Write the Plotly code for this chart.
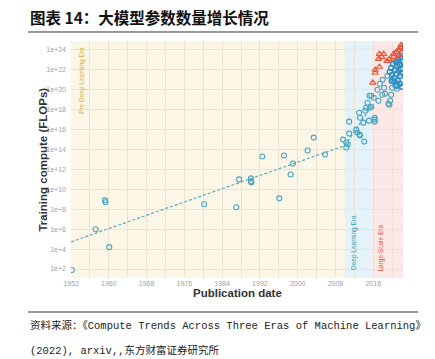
import plotly.graph_objects as go

# ---------------- data (log10 of training compute in FLOPs) ----------------
pre_years = [1952.2, 1957.2, 1959.2, 1959.3, 1960.1, 1980.2, 1987.0, 1987.6, 1990.1, 1990.1,
             1990.2, 1992.5, 1996.1, 1997.1, 1998.5, 1999.0, 2002.1, 2003.4, 2005.8, 2009.6]
pre_logs = [1.9, 6.0, 8.9, 8.7, 4.2, 8.5, 8.2, 11.0, 11.1, 10.8,
            10.7, 13.3, 9.1, 13.4, 11.5, 12.6, 13.9, 15.2, 13.5, 15.0]

dl_years = [2010.3, 2010.3, 2010.6, 2010.9, 2010.9, 2012.4, 2012.6, 2013.1, 2013.2, 2014.1,
            2013.0, 2013.2, 2013.9, 2014.3, 2015.1, 2014.5, 2014.8, 2015.2, 2015.3, 2015.6, 2015.6]
dl_logs = [14.7, 14.2, 14.5, 15.6, 16.8, 16.0, 15.7, 15.5, 15.4, 14.8,
           17.7, 17.2, 16.7, 17.9, 16.9, 18.2, 18.7, 19.4, 18.2, 18.3, 19.4]

ls_years = [2016.3, 2016.3, 2016.3, 2016.1, 2016.9, 2017.1, 2017.4, 2017.9, 2018.3, 2018.5,
            2019.0, 2019.4, 2019.6, 2019.8, 2020.0, 2020.2, 2020.7, 2021.0, 2018.0, 2019.2]
ls_logs = [17.2, 17.0, 16.8, 19.2, 20.0, 18.9, 20.6, 19.5, 20.2, 19.6,
           21.4, 18.5, 18.9, 19.5, 20.2, 20.9, 20.4, 20.1, 21.0, 18.6]

big_years = [2019.5, 2019.8, 2020.0, 2020.2, 2020.4, 2020.6, 2020.8, 2020.9, 2021.1, 2021.2,
             2021.3, 2021.4, 2021.5, 2021.6, 2021.7, 2021.8, 2021.9, 2022.0, 2022.1, 2022.1,
             2021.0, 2020.5, 2019.9, 2021.7, 2022.0]
big_logs = [21.8, 22.2, 21.5, 22.6, 21.2, 22.0, 22.8, 21.6, 22.4, 20.9,
            23.0, 21.9, 22.6, 20.6, 21.4, 23.2, 22.1, 21.7, 22.9, 20.3,
            20.4, 20.8, 20.9, 22.5, 23.4]

tri_years = [2015.9, 2016.4, 2016.4, 2017.1, 2017.3, 2017.3, 2017.8, 2018.2, 2018.9, 2019.4,
             2020.3, 2020.3, 2020.9, 2021.3, 2021.5, 2021.8, 2022.0, 2021.9, 2022.1]
tri_logs = [20.7, 22.0, 21.7, 23.1, 22.3, 23.6, 23.3, 23.6, 22.9, 23.1,
            23.3, 23.6, 23.8, 24.0, 23.5, 24.2, 23.8, 24.5, 24.3]

trend_pre_years = [1952.0, 2010.0]
trend_pre_logs = [4.73, 14.4]
trend_dl_years = [2010.0, 2016.0]
trend_dl_logs = [14.4, 18.6]

x_tick_years = [1952, 1960, 1968, 1976, 1984, 1992, 2000, 2008, 2016]
y_tick_exps = [2, 4, 6, 8, 10, 12, 14, 16, 18, 20, 22, 24]

eras = [("Pre Deep Learning Era", 1952.0, 2010.0, "#fcf6e7", "#d9b545"),
        ("Deep Learning Era", 2010.0, 2015.8, "#e4f3f9", "#3aa9c3"),
        ("Large Scale Era", 2015.8, 2022.3, "#fce8e6", "#e0553a")]

title_text = "图表 14：大模型参数数量增长情况"
source_line1 = "资料来源：《Compute Trends Across Three Eras of Machine Learning》"
source_line2 = "(2022), arxiv,,东方财富证券研究所"

# ---------------- figure ----------------
def p10(v):
    return [10.0 ** e for e in v]

teal = "#4aa6c0"
fig = go.Figure()

fig.add_trace(go.Scatter(x=trend_pre_years, y=p10(trend_pre_logs), mode="lines",
                         line=dict(color="#5aaabf", width=1.2, dash="3px,2px"), hoverinfo="skip"))
fig.add_trace(go.Scatter(x=trend_dl_years, y=p10(trend_dl_logs), mode="lines",
                         line=dict(color="#5aaabf", width=1.2, dash="3px,2px"), hoverinfo="skip"))

mk = dict(symbol="circle-open", size=5, line=dict(width=1.1, color=teal), color=teal)
fig.add_trace(go.Scatter(x=pre_years, y=p10(pre_logs), mode="markers", marker=mk))
fig.add_trace(go.Scatter(x=dl_years, y=p10(dl_logs), mode="markers", marker=mk))
fig.add_trace(go.Scatter(x=ls_years, y=p10(ls_logs), mode="markers", marker=mk))
fig.add_trace(go.Scatter(x=big_years, y=p10(big_logs), mode="markers",
                         marker=dict(symbol="circle-open", size=5, color="#2a8fc6",
                                     line=dict(width=1.4, color="#2a8fc6"))))
fig.add_trace(go.Scatter(x=tri_years, y=p10(tri_logs), mode="markers",
                         marker=dict(symbol="triangle-up-open", size=5.5, color="#e8553a",
                                     line=dict(width=1.2, color="#e8553a"))))

shapes = []
for name, x0, x1, bg, fg in eras:
    shapes.append(dict(type="rect", xref="x", yref="paper", x0=x0, x1=x1, y0=0, y1=1,
                       fillcolor=bg, line=dict(width=0), layer="below"))
# header / footer rules
shapes.append(dict(type="line", xref="paper", yref="paper", x0=-0.1295, x1=1.045,
                   y0=1.038, y1=1.038, line=dict(color="#333333", width=1)))
shapes.append(dict(type="line", xref="paper", yref="paper", x0=-0.1295, x1=1.045,
                   y0=-0.1435, y1=-0.1435, line=dict(color="#333333", width=1)))

annotations = [
    dict(text="Pre Deep Learning Era", x=1954.3, xref="x", y=0.985, yref="paper",
         textangle=-90, yanchor="top", xanchor="center", showarrow=False,
         font=dict(size=6.5, color="#d4b048", family="Liberation Sans")),
    dict(text="Deep Learning Era", x=2011.8, xref="x", y=0.025, yref="paper",
         textangle=-90, yanchor="bottom", xanchor="center", showarrow=False,
         font=dict(size=6.5, color="#2ea3c0", family="Liberation Sans")),
    dict(text="Large Scale Era", x=2017.6, xref="x", y=0.02, yref="paper",
         textangle=-90, yanchor="bottom", xanchor="center", showarrow=False,
         font=dict(size=6.5, color="#dd5a42", family="Liberation Sans")),
    dict(text="<b>" + title_text + "</b>", x=-0.1295, y=1.102, xref="paper", yref="paper",
         xanchor="left", yanchor="middle", showarrow=False,
         font=dict(size=15.5, color="#111111", family="Noto Sans CJK SC")),
    dict(text=source_line1, x=-0.1295, y=-0.2025, xref="paper", yref="paper",
         xanchor="left", yanchor="middle", showarrow=False,
         font=dict(size=10.5, color="#222222", family="Liberation Mono, Noto Sans CJK SC")),
    dict(text=source_line2, x=-0.1295, y=-0.304, xref="paper", yref="paper",
         xanchor="left", yanchor="middle", showarrow=False,
         font=dict(size=10.5, color="#222222", family="Liberation Mono, Noto Sans CJK SC")),
    dict(text="<b>Training compute (FLOPs)</b>", x=-0.087, y=0.5, xref="paper", yref="paper",
         textangle=-90, xanchor="center", yanchor="middle", showarrow=False,
         font=dict(size=11.5, color="#333333", family="Liberation Sans")),
    dict(text="<b>Publication date</b>", x=0.5, y=-0.064, xref="paper", yref="paper",
         xanchor="center", yanchor="middle", showarrow=False,
         font=dict(size=11.5, color="#333333", family="Liberation Sans")),
]

x_tickvals = list(range(1952, 2024, 4))
x_ticktext = [str(v) if v in x_tick_years else "" for v in x_tickvals]

fig.update_layout(
    width=435, height=359,
    margin=dict(l=71, r=32, t=41, b=81),
    paper_bgcolor="white", plot_bgcolor="white",
    showlegend=False,
    shapes=shapes, annotations=annotations,
    xaxis=dict(range=[1952, 2022.3], tickvals=x_tickvals, ticktext=x_ticktext,
               showgrid=True, gridcolor="#ece3d2", gridwidth=1, zeroline=False,
               ticks="", showline=False,
               tickfont=dict(size=7, color="#a0a0a0", family="Liberation Sans")),
    yaxis=dict(type="log", range=[1.1, 24.9], tickvals=[10.0 ** e for e in y_tick_exps],
               ticktext=["1e+%d" % e for e in y_tick_exps],
               showgrid=True, gridcolor="#ece3d2", gridwidth=1, zeroline=False,
               ticks="", showline=False, ticklabelstandoff=4,
               tickfont=dict(size=7, color="#a0a0a0", family="Liberation Sans")),
)

fig.write_html("out.html", config={"displayModeBar": False},
               post_script="document.body.style.margin='0';document.body.style.padding='0';")
